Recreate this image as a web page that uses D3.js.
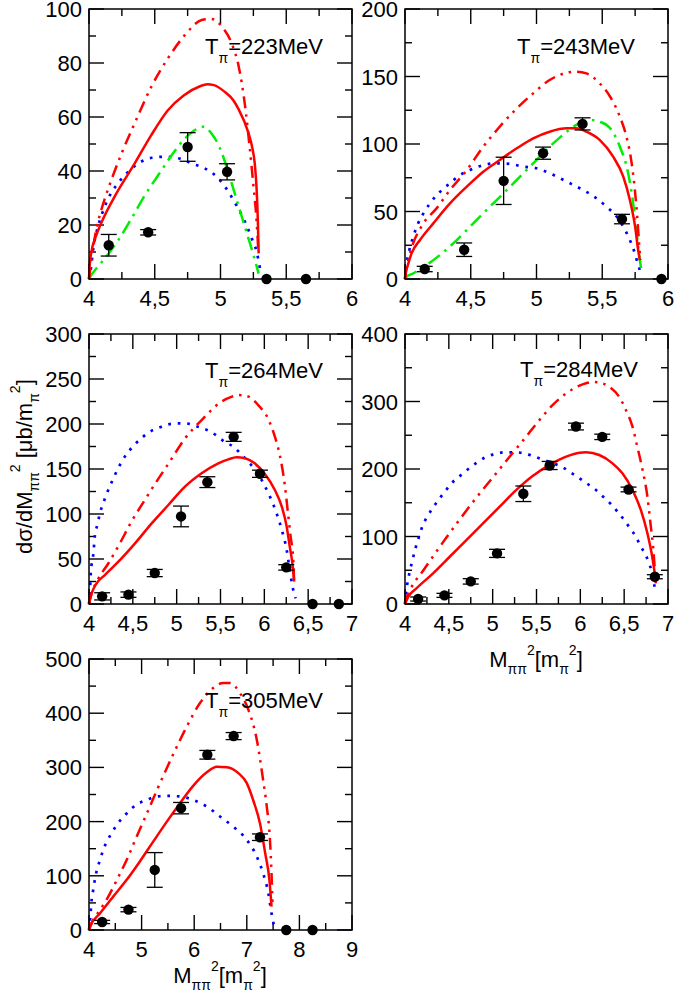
<!DOCTYPE html>
<html>
<head>
<meta charset="utf-8">
<script src="https://cdn.jsdelivr.net/npm/d3@7"></script>
<style>
  body { margin: 0; background: #fff; }
  svg { display: block; }
</style>
</head>
<body>
<div id="chart"></div>
<script>
'use strict'

////////////////////////////////////
//////////// data //////////////////
////////////////////////////////////

// T = 223 MeV
const t223_x = [4.15, 4.45, 4.75, 5.05, 5.35, 5.65]
const t223_y = [12.5, 17.3, 48.9, 39.7, 0, 0]
const t223_err = [4, 1, 5.3, 3, 0, 0]
const t223_solid = [[4,0],[4.005,5],[4.02,10.5],[4.05,15.5],[4.1,21.5],[4.2,31],[4.35,43],[4.47,53],[4.6,62.5],[4.72,68],[4.84,71.3],[4.9,72.1],[4.95,71.8],[5.03,69.4],[5.1,66],[5.136,63],[5.21,54.5],[5.24,49],[5.26,43],[5.275,33],[5.285,20],[5.29,9.5]]
const t223_dashdd = [[4,0],[4.015,6],[4.033,12],[4.05,17],[4.09,25],[4.122,30],[4.18,38],[4.248,46.5],[4.35,58],[4.477,71.5],[4.6,81.7],[4.73,90.4],[4.857,95.9],[4.93,96.3],[5.01,93.5],[5.09,86.7],[5.136,79.3],[5.186,64.4],[5.22,49.6],[5.25,34.8],[5.275,21.2],[5.288,10]]
const t223_dotted = [[4,0],[4.015,4],[4.033,11.4],[4.058,17.5],[4.096,23.7],[4.147,29.9],[4.21,34.8],[4.274,38.5],[4.375,42.8],[4.477,44.9],[4.59,45.3],[4.68,44.7],[4.78,42.8],[4.88,41],[4.983,37.3],[5.06,32.3],[5.12,27.4],[5.186,21.2],[5.237,15.1],[5.275,10.1],[5.3,4]]
const t223_green = [[4,0],[4.01,0.9],[4.046,3.3],[4.122,7.7],[4.223,14.4],[4.324,22.5],[4.426,31.1],[4.527,38.5],[4.63,45.9],[4.73,52.1],[4.83,55.8],[4.87,56.4],[4.93,54],[5.0,48],[5.05,41],[5.1,33],[5.15,25],[5.2,17],[5.25,9],[5.29,2]]
const t223_xTicks = [4, 4.5, 5, 5.5, 6]
const t223_yTicks = [0, 20, 40, 60, 80, 100]

// T = 243 MeV
const t243_x = [4.15, 4.45, 4.75, 5.05, 5.35, 5.65, 5.95]
const t243_y = [7.4, 21.7, 72.7, 93.2, 114.9, 44.4, 0]
const t243_err = [2, 5, 17.5, 4.5, 4.5, 3.5, 0]
const t243_solid = [[4,0],[4.006,5],[4.018,9.1],[4.05,19],[4.114,28.9],[4.215,41.2],[4.342,56],[4.47,68.4],[4.595,79.5],[4.72,88.1],[4.85,96.8],[4.975,104.2],[5.1,109.1],[5.23,111.6],[5.3,111.6],[5.38,109.1],[5.48,103],[5.583,90.6],[5.66,75.8],[5.71,58.5],[5.75,38.8],[5.773,21.5],[5.786,14]]
const t243_dashdd = [[4,0],[4.01,7],[4.025,14],[4.038,19],[4.14,41.2],[4.24,52.3],[4.342,65.9],[4.47,80.7],[4.595,98],[4.72,112.8],[4.85,126.4],[4.975,137.5],[5.1,147.4],[5.23,152.8],[5.3,153.6],[5.38,152.3],[5.48,145],[5.56,135],[5.634,120.2],[5.684,105.4],[5.72,88.1],[5.748,66],[5.766,46.2],[5.78,26.4],[5.79,14]]
const t243_dotted = [[4,0],[4.013,11.6],[4.033,21.5],[4.063,31.4],[4.1,41.2],[4.14,48.6],[4.19,56],[4.28,65.9],[4.342,70.9],[4.418,77],[4.494,80.7],[4.595,84.4],[4.697,85.7],[4.8,85.2],[4.9,83.2],[5.0,82],[5.1,78.3],[5.23,72.1],[5.355,65.9],[5.456,59.8],[5.532,53.6],[5.61,46.2],[5.66,38.8],[5.71,28.9],[5.748,19],[5.773,10.4],[5.79,5.4]]
const t243_green = [[4,0],[4.01,1.5],[4.063,4.2],[4.165,10.4],[4.266,17.8],[4.367,26.4],[4.47,36.3],[4.57,46.2],[4.697,58.5],[4.8,68.4],[4.9,78.3],[5.0,88.1],[5.1,98],[5.2,106.7],[5.3,114],[5.405,117.8],[5.48,116.5],[5.56,111.6],[5.634,98],[5.697,78.3],[5.735,56],[5.765,31.4],[5.786,14],[5.8,5.4]]
const t243_xTicks = [4, 4.5, 5, 5.5, 6]
const t243_yTicks = [0, 50, 100, 150, 200]

// T = 264 MeV
const t264_x = [4.15, 4.45, 4.75, 5.05, 5.35, 5.65, 5.95, 6.25, 6.55, 6.85]
const t264_y = [8.5, 10.4, 34.4, 97.3, 135.4, 185.7, 144.7, 40.7, 0, 0]
const t264_err = [4, 3, 4, 11.5, 6, 5, 4, 3, 0, 0]
const t264_solid = [[4,0],[4.01,5],[4.03,11.9],[4.087,23],[4.18,32.2],[4.335,47],[4.525,67.4],[4.715,89.6],[4.905,110],[5.095,130.4],[5.285,145.2],[5.475,156.3],[5.59,160.7],[5.684,163],[5.78,161.9],[5.89,156.3],[6.0,145.2],[6.12,126.7],[6.2,108],[6.255,86],[6.29,63.7],[6.32,45.2],[6.34,24.8]]
const t264_dashdd = [[4,0],[4.03,11.9],[4.1,27],[4.22,45],[4.35,67],[4.487,92],[4.62,113],[4.75,133],[4.92,158],[5.095,184],[5.285,204.4],[5.51,224.8],[5.63,230.4],[5.7,232.2],[5.82,230.4],[5.93,221],[6.05,204.4],[6.12,186],[6.18,163.7],[6.236,130.4],[6.27,100.7],[6.3,74.8],[6.33,48.9],[6.34,24.8]]
const t264_dotted = [[4,0],[4.01,11.9],[4.02,34],[4.05,56.3],[4.068,76.7],[4.095,87.8],[4.12,98.9],[4.19,119.3],[4.278,139.6],[4.38,159.3],[4.517,176.7],[4.61,185.2],[4.696,191.5],[4.8,196],[4.905,199.6],[5.02,200.7],[5.125,200.4],[5.24,197],[5.346,193.3],[5.445,187.8],[5.55,180],[5.646,174.8],[5.71,169],[5.817,158],[5.913,147],[5.99,134],[6.065,119],[6.14,100.7],[6.2,82],[6.255,60],[6.29,37.8],[6.33,15.6],[6.357,6.3]]
const t264_xTicks = [4, 4.5, 5, 5.5, 6, 6.5, 7]
const t264_yTicks = [0, 50, 100, 150, 200, 250, 300]

// T = 284 MeV
const t284_x = [4.15, 4.45, 4.75, 5.05, 5.35, 5.65, 5.95, 6.25, 6.55, 6.85]
const t284_y = [7.4, 12.8, 33.5, 75, 163.3, 205.2, 262.9, 247.6, 169.7, 40.4]
const t284_err = [3, 3, 4, 6, 11.5, 6, 5, 4, 3.5, 3]
const t284_solid = [[4,0],[4.038,10.9],[4.13,23.2],[4.32,45.4],[4.51,70],[4.7,94.8],[4.89,119.5],[5.08,144.2],[5.27,169],[5.46,190],[5.65,206],[5.837,218.3],[5.99,224.2],[6.064,224.7],[6.216,220.7],[6.367,208.4],[6.48,193.6],[6.595,168.9],[6.69,139.3],[6.765,104.7],[6.82,70],[6.86,35.5]]
const t284_dashdd = [[4,0],[4.02,10],[4.057,20.7],[4.21,50],[4.47,98],[4.78,152],[5.08,200],[5.23,224],[5.345,242],[5.53,272],[5.686,295],[5.837,312],[5.95,321],[6.064,327],[6.14,329],[6.216,328],[6.33,322],[6.443,307],[6.52,287.4],[6.595,262.7],[6.65,233],[6.71,198.5],[6.765,159],[6.8,119.5],[6.83,85],[6.85,50.4],[6.86,30.6]]
const t284_dotted = [[4,0],[4.01,15.8],[4.027,30.6],[4.05,45.4],[4.076,60.2],[4.114,80],[4.16,99.8],[4.2,115.6],[4.254,129.4],[4.314,141.7],[4.38,154],[4.455,166.4],[4.53,178.8],[4.617,188.6],[4.708,198.5],[4.807,208.4],[4.917,217.3],[5.023,222.2],[5.136,224.7],[5.25,224.7],[5.364,223.2],[5.477,218.3],[5.59,213.3],[5.693,208.4],[5.8,202.5],[5.894,194.6],[5.99,186.2],[6.083,177.8],[6.178,168.9],[6.26,159],[6.348,148.1],[6.424,136.8],[6.5,124.4],[6.568,112],[6.633,99.8],[6.69,85],[6.746,72.6],[6.784,60.2],[6.82,45.4],[6.84,30.6],[6.86,15.8]]
const t284_xTicks = [4, 4.5, 5, 5.5, 6, 6.5, 7]
const t284_yTicks = [0, 100, 200, 300, 400]

// T = 305 MeV
const t305_x = [4.25, 4.75, 5.25, 5.75, 6.25, 6.75, 7.25, 7.75, 8.25]
const t305_y = [14.8, 37.6, 110.8, 224.8, 323.3, 357.8, 171.2, 0, 0]
const t305_err = [3, 4, 32, 10.5, 8, 6.5, 6, 0, 0]
const t305_solid = [[4,0],[4.02,6],[4.21,30.8],[4.46,61.6],[4.72,93],[4.97,127],[5.22,163],[5.48,200],[5.73,234],[5.98,266],[6.24,291],[6.43,301.2],[6.62,300.5],[6.84,289.4],[7.0,271],[7.12,240],[7.25,197],[7.35,141.6],[7.43,92.4],[7.47,43]]
const t305_dashdd = [[4,0],[4.02,6],[4.21,37],[4.34,57],[4.53,92.4],[4.72,130],[4.9,171],[5.1,215],[5.3,260],[5.6,324],[5.86,375.6],[6.11,418.7],[6.36,446.4],[6.55,455.7],[6.68,455.7],[6.87,437.2],[7.03,406.4],[7.19,351],[7.31,277],[7.38,227.8],[7.44,166.3],[7.47,104.7],[7.49,43]]
const t305_dotted = [[4,0],[4.02,18.5],[4.05,55.4],[4.08,73.9],[4.11,92.4],[4.15,110.8],[4.21,129.3],[4.27,147.8],[4.34,163.2],[4.43,178.6],[4.53,194],[4.72,215.5],[4.9,231],[5.1,240],[5.29,246.3],[5.48,247.5],[5.73,246.3],[5.98,240],[6.24,227.8],[6.49,209.4],[6.74,190.9],[7.0,166.3],[7.19,135.5],[7.31,104.7],[7.41,67.7],[7.47,30.8],[7.52,6]]
const t305_xTicks = [4, 5, 6, 7, 8, 9]
const t305_yTicks = [0, 100, 200, 300, 400, 500]

////////////////////////////////////
//////////// svg setup /////////////
////////////////////////////////////

const svgWidth = 674
const svgHeight = 999
const font_family = '"Liberation Sans", Arial, Helvetica, sans-serif'

const svg = d3.select('#chart')
    .append('svg')
    .attr('width', svgWidth)
    .attr('height', svgHeight)
    .attr('viewBox', `0 0 ${svgWidth} ${svgHeight}`)

// panel boxes (pixel layout) + which data goes in it
const panels = [
    { T: '223', left: 89,  top: 9,   w: 263, h: 270, lx: 116, ly: 45,
      px: t223_x, py: t223_y, pe: t223_err, solid: t223_solid, dashdd: t223_dashdd, dotted: t223_dotted, green: t223_green,
      xTicks: t223_xTicks, yTicks: t223_yTicks },
    { T: '243', left: 405, top: 9,   w: 263, h: 270, lx: 112, ly: 45,
      px: t243_x, py: t243_y, pe: t243_err, solid: t243_solid, dashdd: t243_dashdd, dotted: t243_dotted, green: t243_green,
      xTicks: t243_xTicks, yTicks: t243_yTicks },
    { T: '264', left: 89,  top: 334, w: 263, h: 270, lx: 116, ly: 44,
      px: t264_x, py: t264_y, pe: t264_err, solid: t264_solid, dashdd: t264_dashdd, dotted: t264_dotted, green: null,
      xTicks: t264_xTicks, yTicks: t264_yTicks },
    { T: '284', left: 405, top: 334, w: 263, h: 270, lx: 115, ly: 43,
      px: t284_x, py: t284_y, pe: t284_err, solid: t284_solid, dashdd: t284_dashdd, dotted: t284_dotted, green: null,
      xTicks: t284_xTicks, yTicks: t284_yTicks },
    { T: '305', left: 89,  top: 659, w: 263, h: 271, lx: 116, ly: 49,
      px: t305_x, py: t305_y, pe: t305_err, solid: t305_solid, dashdd: t305_dashdd, dotted: t305_dotted, green: null,
      xTicks: t305_xTicks, yTicks: t305_yTicks }
]

const fmt = v => String(v).replace('.', ',')
const minors = ticks => d3.range(ticks.length - 1).map(i => (ticks[i] + ticks[i + 1]) / 2)

const majorLen = 15
const minorLen = 7

panels.forEach(p => {

    const g = svg.append('g')
        .attr('transform', `translate(${p.left},${p.top})`)

    const x = d3.scaleLinear()
        .domain([p.xTicks[0], p.xTicks[p.xTicks.length - 1]])
        .range([0, p.w])
    const y = d3.scaleLinear()
        .domain([p.yTicks[0], p.yTicks[p.yTicks.length - 1]])
        .range([p.h, 0])

    // ticks, inward on all four sides
    const tickG = g.append('g')
        .attr('stroke', '#000')
        .attr('stroke-width', 1.4)

    const xt = p.xTicks.map(v => ({ v, len: majorLen })).concat(minors(p.xTicks).map(v => ({ v, len: minorLen })))
    const yt = p.yTicks.map(v => ({ v, len: majorLen })).concat(minors(p.yTicks).map(v => ({ v, len: minorLen })))

    xt.forEach(t => {
        tickG.append('line').attr('x1', x(t.v)).attr('x2', x(t.v)).attr('y1', p.h).attr('y2', p.h - t.len)
        tickG.append('line').attr('x1', x(t.v)).attr('x2', x(t.v)).attr('y1', 0).attr('y2', t.len)
    })
    yt.forEach(t => {
        tickG.append('line').attr('x1', 0).attr('x2', t.len).attr('y1', y(t.v)).attr('y2', y(t.v))
        tickG.append('line').attr('x1', p.w).attr('x2', p.w - t.len).attr('y1', y(t.v)).attr('y2', y(t.v))
    })

    // tick labels
    g.selectAll('.xlab')
        .data(p.xTicks)
        .join('text')
        .attr('x', d => x(d))
        .attr('y', p.h + 27)
        .attr('text-anchor', 'middle')
        .style('font-family', font_family)
        .style('font-size', '22px')
        .text(fmt)

    g.selectAll('.ylab')
        .data(p.yTicks)
        .join('text')
        .attr('x', -7)
        .attr('y', d => y(d) + 8)
        .attr('text-anchor', 'end')
        .style('font-family', font_family)
        .style('font-size', '22px')
        .text(fmt)

    // curves
    const line = d3.line()
        .x(d => x(d[0]))
        .y(d => y(d[1]))
        .curve(d3.curveMonotoneX)

    g.append('path')
        .attr('d', line(p.dotted))
        .attr('fill', 'none')
        .attr('stroke', '#0000ff')
        .attr('stroke-width', 2.7)
        .attr('stroke-dasharray', '2.7,6.8')

    if (p.green) {
        g.append('path')
            .attr('d', line(p.green))
            .attr('fill', 'none')
            .attr('stroke', '#00ee00')
            .attr('stroke-width', 2.5)
            .attr('stroke-dasharray', '14,6,2.5,6')
    }

    g.append('path')
        .attr('d', line(p.dashdd))
        .attr('fill', 'none')
        .attr('stroke', '#ff0000')
        .attr('stroke-width', 2.5)
        .attr('stroke-dasharray', '12,6,2.5,6,2.5,6')

    g.append('path')
        .attr('d', line(p.solid))
        .attr('fill', 'none')
        .attr('stroke', '#ff0000')
        .attr('stroke-width', 2.5)

    // frame
    g.append('rect')
        .attr('width', p.w)
        .attr('height', p.h)
        .attr('fill', 'none')
        .attr('stroke', '#000')
        .attr('stroke-width', 1.5)

    // data points with error bars
    const pts = p.px.map((v, i) => ({ x: v, y: p.py[i], e: p.pe[i] }))
    const eb = g.append('g').attr('stroke', '#000').attr('stroke-width', 1.3)
    pts.filter(d => d.e > 0).forEach(d => {
        eb.append('line').attr('x1', x(d.x)).attr('x2', x(d.x)).attr('y1', y(d.y - d.e)).attr('y2', y(d.y + d.e))
        eb.append('line').attr('x1', x(d.x) - 8).attr('x2', x(d.x) + 8).attr('y1', y(d.y - d.e)).attr('y2', y(d.y - d.e))
        eb.append('line').attr('x1', x(d.x) - 8).attr('x2', x(d.x) + 8).attr('y1', y(d.y + d.e)).attr('y2', y(d.y + d.e))
    })
    g.selectAll('.pt')
        .data(pts)
        .join('circle')
        .attr('cx', d => x(d.x))
        .attr('cy', d => y(d.y))
        .attr('r', 5.2)
        .attr('fill', '#000')

    // energy label
    const lab = g.append('text')
        .attr('x', p.lx)
        .attr('y', p.ly)
        .style('font-family', font_family)
        .style('font-size', '22px')
    lab.append('tspan').text('T')
    lab.append('tspan').attr('dy', 9).style('font-size', '14px').text('\u03c0')
    lab.append('tspan').attr('dy', -9).text('=' + p.T + 'MeV')
})

////////////////////////////////////
//////////// axis titles ///////////
////////////////////////////////////

function massLabel(sel) {
    sel.append('tspan').text('M')
    sel.append('tspan').attr('dy', 7).style('font-size', '14px').text('\u03c0\u03c0')
    sel.append('tspan').attr('dy', -19).style('font-size', '14px').text('2')
    sel.append('tspan').attr('dy', 12).text('[m')
    sel.append('tspan').attr('dy', 7).style('font-size', '14px').text('\u03c0')
    sel.append('tspan').attr('dy', -19).style('font-size', '14px').text('2')
    sel.append('tspan').attr('dy', 12).text(']')
}

svg.append('text')
    .attr('x', 536)
    .attr('y', 667)
    .attr('text-anchor', 'middle')
    .style('font-family', font_family)
    .style('font-size', '22px')
    .call(massLabel)

svg.append('text')
    .attr('x', 220)
    .attr('y', 983)
    .attr('text-anchor', 'middle')
    .style('font-family', font_family)
    .style('font-size', '22px')
    .call(massLabel)

const ylab = svg.append('text')
    .attr('transform', 'translate(32,554) rotate(-90)')
    .attr('text-anchor', 'start')
    .style('font-family', font_family)
    .style('font-size', '22px')
ylab.append('tspan').text('d\u03c3/dM')
ylab.append('tspan').attr('dy', 7).style('font-size', '14px').text('\u03c0\u03c0')
ylab.append('tspan').attr('dy', -19).style('font-size', '14px').text('2')
ylab.append('tspan').attr('dy', 12).text(' [\u03bcb/m')
ylab.append('tspan').attr('dy', 7).style('font-size', '14px').text('\u03c0')
ylab.append('tspan').attr('dy', -19).style('font-size', '14px').text('2')
ylab.append('tspan').attr('dy', 12).text(']')
</script>
</body>
</html>
